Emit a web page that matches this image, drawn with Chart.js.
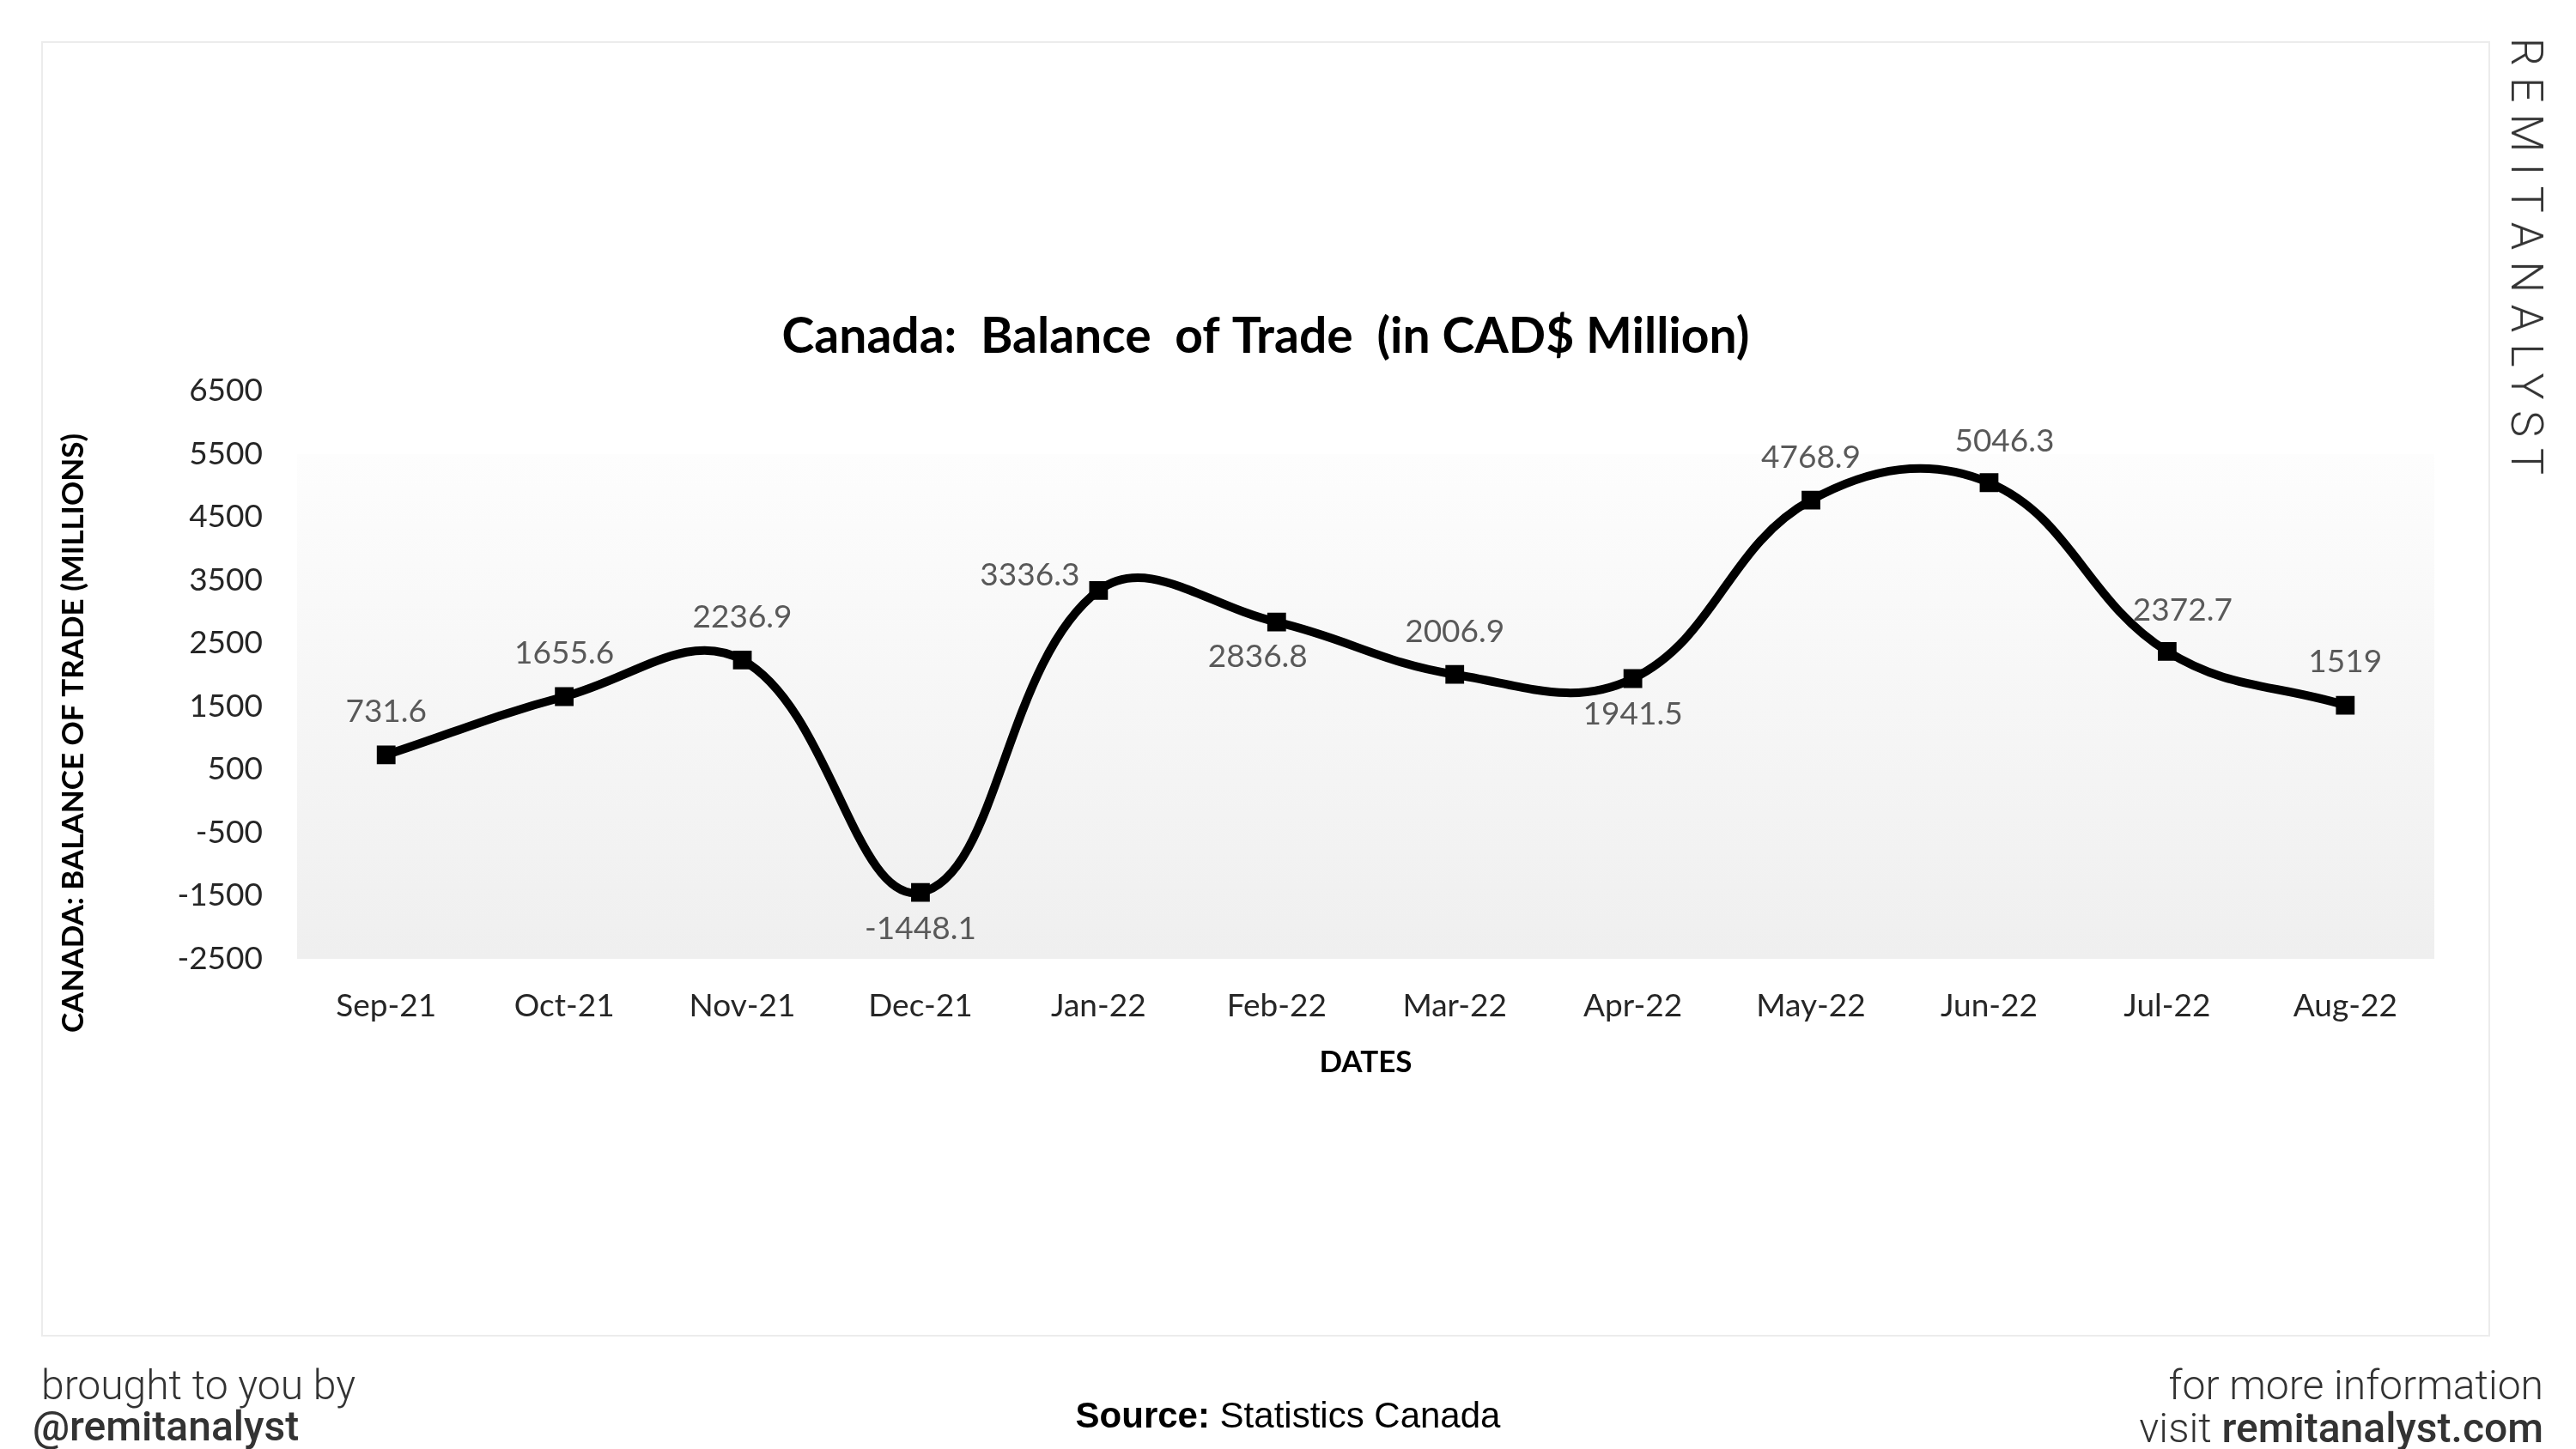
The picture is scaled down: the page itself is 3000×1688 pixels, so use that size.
<!DOCTYPE html>
<html>
<head>
<meta charset="utf-8">
<script src="https://cdn.jsdelivr.net/npm/chart.js@4.4.0/dist/chart.umd.min.js"></script>
<style>
  html, body { margin: 0; padding: 0; background: #fff; }
  #wrap { position: relative; width: 3000px; height: 1688px; overflow: hidden; }
  #card { position: absolute; left: 48px; top: 48px; width: 2852px; height: 1509px; border: 2px solid #ececec; box-sizing: border-box; }
  #grafico { position: absolute; left: 0; top: 0; }
  .txt { position: absolute; font-family: Roboto, sans-serif; color: #333; white-space: nowrap; line-height: 1; }
  #marca { position: absolute; left: 2942px; top: 305px; font-family: Roboto, sans-serif; font-weight: 300; font-size: 52px;
           letter-spacing: 13px; color: #333; white-space: nowrap; line-height: 1;
           transform: translate(-50%, -50%) rotate(90deg); }
</style>
</head>
<body>
<div id="wrap">
  <div id="card"></div>
  <canvas id="grafico" width="3000" height="1688"></canvas>
  <div id="marca">REMITANALYST</div>
  <div class="txt" style="left:48px; top:1590px; font-size:48px; font-weight:300;">brought to you by</div>
  <div class="txt" style="left:38px; top:1638px; font-size:48px; font-weight:500;">@remitanalyst</div>
  <div class="txt" style="left:1500px; top:1628px; transform:translateX(-50%); font-family:'Liberation Sans', Arial, sans-serif; font-size:42px; color:#000;"><b>Source:</b> Statistics Canada</div>
  <div class="txt" style="right:38px; top:1590px; font-size:48px; font-weight:300;">for more information</div>
  <div class="txt" style="right:38px; top:1640px; font-size:48px; font-weight:300;">visit <span style="font-weight:500;">remitanalyst.com</span></div>
</div>

<script>
// Dados
const meses = ['Sep-21', 'Oct-21', 'Nov-21', 'Dec-21', 'Jan-22', 'Feb-22', 'Mar-22', 'Apr-22', 'May-22', 'Jun-22', 'Jul-22', 'Aug-22'];
const saldo = [731.6, 1655.6, 2236.9, -1448.1, 3336.3, 2836.8, 2006.9, 1941.5, 4768.9, 5046.3, 2372.7, 1519];
const ticksY = [-2500, -1500, -500, 500, 1500, 2500, 3500, 4500, 5500, 6500];
// lado do rótulo de cada ponto
const ladoRotulo = ['above', 'above', 'above', 'below', 'left', 'below-left', 'above', 'below', 'above', 'above-right', 'above-right', 'above'];

const fonte = 'Lato';

// Fundo da área do gráfico (degradê)
const fundoPlugin = {
    id: 'fundo',
    beforeDatasetsDraw(chart) {
        const { ctx, chartArea } = chart;
        const topo = chart.scales.y.getPixelForValue(ticksY[ticksY.length - 2]);
        const g = ctx.createLinearGradient(0, topo, 0, chartArea.bottom);
        g.addColorStop(0, '#fdfdfd');
        g.addColorStop(1, '#efefef');
        ctx.save();
        ctx.fillStyle = g;
        ctx.fillRect(chartArea.left, topo, chartArea.right - chartArea.left, chartArea.bottom - topo);
        ctx.restore();
    }
};

// Título do eixo Y (rotacionado)
const tituloYPlugin = {
    id: 'tituloY',
    afterDraw(chart) {
        const { ctx } = chart;
        ctx.save();
        ctx.translate(86, 854);
        ctx.rotate(-Math.PI / 2);
        ctx.font = 'bold 35px ' + fonte;
        ctx.fillStyle = '#000';
        ctx.textAlign = 'center';
        ctx.textBaseline = 'middle';
        ctx.fillText('CANADA: BALANCE OF TRADE (MILLIONS)', 0, 0);
        ctx.restore();
    }
};

// Rótulos dos valores
const rotulosPlugin = {
    id: 'rotulos',
    afterDatasetsDraw(chart) {
        const { ctx } = chart;
        const pontos = chart.getDatasetMeta(0).data;
        ctx.save();
        ctx.font = '37px ' + fonte;
        ctx.fillStyle = '#595959';
        ctx.textBaseline = 'middle';
        pontos.forEach((p, i) => {
            const texto = String(saldo[i]);
            const lado = ladoRotulo[i];
            ctx.textAlign = 'center';
            if (lado === 'left') {
                ctx.textAlign = 'right';
                ctx.fillText(texto, p.x - 22, p.y - 18);
            } else if (lado === 'below') {
                ctx.fillText(texto, p.x, p.y + 42);
            } else if (lado === 'below-left') {
                ctx.fillText(texto, p.x - 22, p.y + 40);
            } else if (lado === 'above-right') {
                ctx.fillText(texto, p.x + 18, p.y - 48);
            } else {
                ctx.fillText(texto, p.x, p.y - 50);
            }
        });
        ctx.restore();
    }
};

const ctx = document.getElementById('grafico').getContext('2d');
new Chart(ctx, {
    type: 'line',
    data: {
        labels: meses,
        datasets: [{
            data: saldo,
            borderColor: '#000',
            borderWidth: 10,
            tension: 0.4,
            pointStyle: 'rect',
            pointRadius: 14,
            pointBackgroundColor: '#000',
            pointBorderColor: '#000',
            pointBorderWidth: 2,
            fill: false
        }]
    },
    options: {
        responsive: false,
        animation: false,
        events: [],
        layout: { padding: { top: 300, right: 165, bottom: 411, left: 113 } },
        plugins: {
            legend: { display: false },
            tooltip: { enabled: false },
            title: {
                display: true,
                text: 'Canada:  Balance  of Trade  (in CAD$ Million)',
                color: '#000',
                font: { family: fonte, size: 57, weight: 'bold' },
                padding: { top: 58, bottom: 29 }
            }
        },
        scales: {
            x: {
                offset: true,
                grid: { display: false, drawTicks: false },
                border: { display: false },
                ticks: { color: '#262626', font: { family: fonte, size: 37 }, padding: 33 },
                title: {
                    display: true,
                    text: 'DATES',
                    color: '#000',
                    font: { family: fonte, size: 35, weight: 'bold' },
                    padding: { top: 0, bottom: 18 }
                },
                afterFit(scale) { scale.height = 160; }
            },
            y: {
                min: ticksY[0],
                max: ticksY[ticksY.length - 1],
                grid: { display: false, drawTicks: false },
                border: { display: false },
                afterBuildTicks(scale) { scale.ticks = ticksY.map(v => ({ value: v })); },
                ticks: {
                    color: '#262626',
                    font: { family: fonte, size: 37 },
                    padding: 40,
                    callback: v => String(v)
                },
                afterFit(scale) { scale.width = 233; }
            }
        }
    },
    plugins: [fundoPlugin, rotulosPlugin, tituloYPlugin]
});
</script>
</body>
</html>
